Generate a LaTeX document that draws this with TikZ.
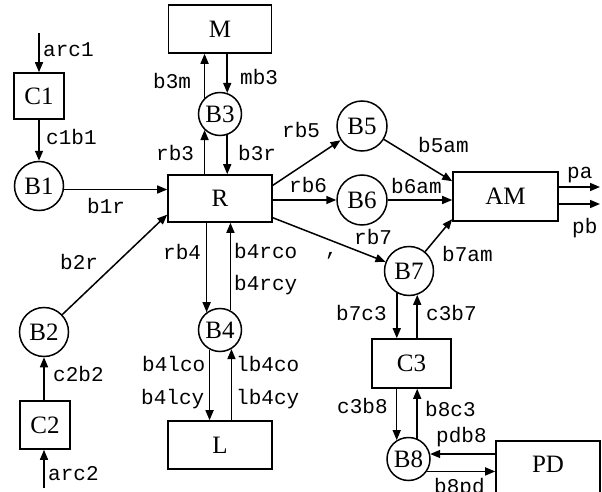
\documentclass[tikz,border=0pt]{standalone}
\usepackage{fontspec}
\setmainfont{Liberation Serif}
\newfontfamily\lblfont{Liberation Mono}
\usetikzlibrary{arrows.meta}
\begin{document}
\begin{tikzpicture}[x=1pt,y=-1pt,
  box/.style={draw, line width=1.6pt, inner sep=0pt, font=\fontsize{25}{25}\selectfont},
  circ/.style={draw, circle, line width=1.5pt, inner sep=0pt, font=\fontsize{25}{25}\selectfont},
  arr/.style={line width=1.5pt, -{Triangle[length=10pt,width=8pt]}},
  lbl/.style={font=\fontsize{21}{21}\lblfont, inner sep=0pt, anchor=base west}]
\useasboundingbox (0,0) rectangle (602,492);
% nodes
\node[box, minimum width=103, minimum height=48] (M) at (220,29) {M};
\node[box, minimum width=50, minimum height=46] (C1) at (39,96) {C1};
\node[circ, minimum size=49] (B1) at (39,186) {B1};
\node[box, minimum width=104, minimum height=47] (R) at (220,198.5) {R};
\node[circ, minimum size=43] (B3) at (220,114) {B3};
\node[circ, minimum size=49] (B2) at (44,332) {B2};
\node[box, minimum width=50, minimum height=48] (C2) at (45,425) {C2};
\node[circ, minimum size=43] (B4) at (220,330) {B4};
\node[box, minimum width=104, minimum height=48] (L) at (220,445) {L};
\node[circ, minimum size=50] (B5) at (362,126) {B5};
\node[circ, minimum size=50] (B6) at (362,200) {B6};
\node[circ, minimum size=49] (B7) at (409,271) {B7};
\node[box, minimum width=105, minimum height=49] (AM) at (505.5,196.5) {AM};
\node[box, minimum width=79, minimum height=49] (C3) at (411.5,363.5) {C3};
\node[circ, minimum size=43] (B8) at (408.5,459) {B8};
\node[box, minimum width=104, text height=32pt, text depth=34pt, anchor=north] (PD) at (548,440) {PD};
\coordinate (arc1) at (39,33);
\coordinate (arc2) at (44,488);
\coordinate (pa) at (600,187);
\coordinate (pb) at (600,204);
% connectors
\draw[arr] (arc1) -- (C1.north);
\draw[arr] (C1.south) -- (B1.north);
\draw[arr] (B1.-8) -- (R.west |- B1.-8);
\draw[arr] (arc2) -- (C2.south -| arc2);
\draw[arr] (C2.north -| B2) -- (B2.south);
\draw[arr] (B2) -- (R.197);
\draw[arr] (B3.134) -- (M.south -| B3.134);
\draw[arr] (M.south -| B3.71) -- (B3.71);
\draw[arr] (R.north -| B3.-134) -- (B3.-134);
\draw[arr] (B3.-71) -- (R.north -| B3.-71);
\draw[arr] (R.south -| B4.127) -- (B4.127);
\draw[arr] (B4.62) -- (R.south -| B4.62);
\draw[arr] (B4.-118) -- (L.north -| B4.-118);
\draw[arr] (L.north -| B4.-59) -- (B4.-59);
\draw[arr] (R.14) -- (B5);
\draw[arr] (R.east |- B6.west) -- (B6.west);
\draw[arr] (R.-20) -- (B7);
\draw[arr] (B5) -- (AM.164);
\draw[arr] (B6.east) -- (AM.west |- B6.east);
\draw[arr] (B7) -- (AM.203);
\draw[arr] (AM.east |- pa) -- (pa);
\draw[arr] (AM.east |- pb) -- (pb);
\draw[arr] (B7.-119) -- (C3.north -| B7.-119);
\draw[arr] (C3.north -| B7.-71) -- (B7.-71);
\draw[arr] (C3.south -| B8.122) -- (B8.122);
\draw[arr] (B8.67) -- (C3.south -| B8.67);
\draw[arr] (PD.west |- B8.13) -- (B8.13);
\draw[arr] (B8.-34) -- (PD.west |- B8.-34);
% labels
\node[lbl] (l1) at (43,57) {arc1};
\node[lbl] (l2) at (46,144) {c1b1};
\node[lbl] (l3) at (87,213) {b1r};
\node[lbl] (l4) at (153,89) {b3m};
\node[lbl] (l5) at (240,85) {mb3};
\node[lbl] (l6) at (156,160) {rb3};
\node[lbl] (l7) at (238,160) {b3r};
\node[lbl] (l8) at (282,138) {rb5};
\node[lbl] (l9) at (418,152) {b5am};
\node[lbl] (l10) at (289,192) {rb6};
\node[lbl] (l11) at (391,193) {b6am};
\node[lbl] (l12) at (354,244) {rb7};
\node[lbl] (l13) at (325,255) {,};
\node[lbl] (l14) at (442,261) {b7am};
\node[lbl] (l15) at (567,178) {pa};
\node[lbl] (l16) at (572,233) {pb};
\node[lbl] (l17) at (60,269) {b2r};
\node[lbl] (l18) at (163,259) {rb4};
\node[lbl] (l19) at (234,258) {b4rco};
\node[lbl] (l20) at (234,290) {b4rcy};
\node[lbl] (l21) at (142,371) {b4lco};
\node[lbl] (l22) at (141,404) {b4lcy};
\node[lbl] (l23) at (236,371) {lb4co};
\node[lbl] (l24) at (236,404) {lb4cy};
\node[lbl] (l25) at (53,381) {c2b2};
\node[lbl] (l26) at (48,480) {arc2};
\node[lbl] (l27) at (336,320) {b7c3};
\node[lbl] (l28) at (426,320) {c3b7};
\node[lbl] (l29) at (337,413) {c3b8};
\node[lbl] (l30) at (425,416) {b8c3};
\node[lbl] (l31) at (436,442) {pdb8};
\node[lbl] (l32) at (434,493) {b8pd};
\end{tikzpicture}
\end{document}
